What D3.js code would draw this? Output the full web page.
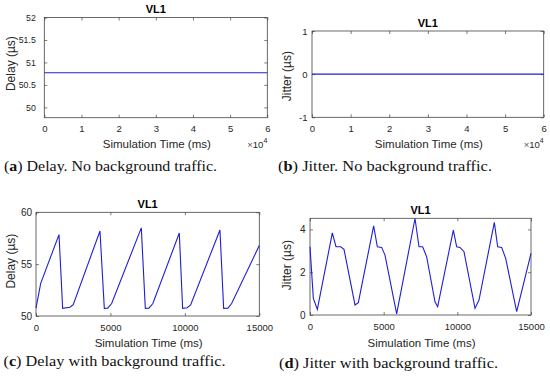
<!DOCTYPE html>
<html lang="en">
<head>
<meta charset="utf-8">
<script src="https://d3js.org/d3.v7.min.js"></script>
<style>
  body { margin: 0; background: #fff; }
  svg { display: block; }
  .tick text, .lbl { font-family: "Liberation Sans", Arial, sans-serif; fill: #262626; }
  .ttl { font-family: "Liberation Sans", Arial, sans-serif; font-weight: bold; fill: #000; }
  .cap { font-family: "Liberation Serif", "Times New Roman", serif; fill: #111; }
</style>
</head>
<body>
<svg id="chart" width="550" height="379"></svg>
<script>
// panel (a) / (b): constant series over 0..6e4 ms
const flatTime = [0, 60000];
const flatDelay = [50.77, 50.77];
const flatJitter = [0, 0];

// panel (c): delay with background traffic
const delayTime = [0, 316, 1545, 1791, 2283, 2500, 4298, 4589, 4813, 5082, 7074, 7343, 7589, 7850,
  9626, 9850, 10150, 10387, 12357, 12604, 12895, 13141, 15000];
const delayVal = [50.75, 53.15, 57.85, 50.74, 50.84, 51.1, 58.2, 50.74, 50.76, 51.2, 58.5, 50.74, 50.76, 51.2,
  58.0, 50.74, 50.8, 51.06, 58.3, 50.74, 50.76, 51.2, 56.8];

// panel (d): jitter with background traffic
const jitterTime = [0, 226, 498, 1516, 1765, 2081, 2308, 3054, 3281, 4321, 4570, 4864, 5090, 5882,
  7127, 7398, 7647, 7919, 8484, 8665, 9729, 9955, 10181, 10452, 11199, 11471, 12511, 12738, 13009, 13281, 14027, 15000];
const jitterVal = [3.19, 0.78, 0.26, 3.84, 3.19, 3.19, 3.07, 0.47, 0.58, 4.17, 3.19, 3.16, 2.80, 0.05,
  4.51, 3.19, 3.19, 2.72, 0.62, 0.39, 3.97, 3.19, 3.16, 2.96, 0.31, 0.70, 4.33, 3.19, 3.16, 2.65, 0.16, 2.88];

const xTicksA = [0, 10000, 20000, 30000, 40000, 50000, 60000];
const xTicksC = [0, 5000, 10000, 15000];
const yTicksA = [50, 50.5, 51, 51.5, 52];
const yTicksB = [-1, 0, 1];
const yTicksC = [50, 55, 60];
const yTicksD = [0, 2, 4];

const captions = [
  ["a", " Delay. No background traffic."],
  ["b", " Jitter. No background traffic."],
  ["c", " Delay with background traffic."],
  ["d", " Jitter with background traffic."]
];

const svg = d3.select('#chart');

function drawPanel(p) {
  const x = d3.scaleLinear().domain(p.xDomain).range([p.left, p.right]);
  const y = d3.scaleLinear().domain(p.yDomain).range([p.bottom, p.top]);
  const g = svg.append('g');

  const fmtX = p.sci ? (d => d / 10000) : d3.format('d');

  // inward ticks on all four sides, like a boxed matlab axes
  g.append('g').attr('class', 'xax').attr('transform', `translate(0,${p.bottom})`)
    .call(d3.axisBottom(x).tickValues(p.xTicks).tickSizeInner(-3).tickSizeOuter(0).tickPadding(8).tickFormat(fmtX))
    .call(a => a.select('.domain').remove());
  g.append('g').attr('transform', `translate(0,${p.top})`)
    .call(d3.axisTop(x).tickValues(p.xTicks).tickSizeInner(-3).tickSizeOuter(0).tickFormat(''))
    .call(a => a.select('.domain').remove());
  g.append('g').attr('class', 'yax').attr('transform', `translate(${p.left},0)`)
    .call(d3.axisLeft(y).tickValues(p.yTicks).tickSizeInner(-3).tickSizeOuter(0).tickPadding(p.yPad).tickFormat(d => d))
    .call(a => a.select('.domain').remove());
  g.append('g').attr('transform', `translate(${p.right},0)`)
    .call(d3.axisRight(y).tickValues(p.yTicks).tickSizeInner(-3).tickSizeOuter(0).tickFormat(''))
    .call(a => a.select('.domain').remove());

  g.selectAll('.tick line').attr('stroke', '#444').attr('stroke-width', 0.7);
  g.selectAll('.xax .tick text').attr('font-size', 9.5);
  g.selectAll('.yax .tick text').attr('font-size', p.yFont);

  g.append('rect')
    .attr('x', p.left).attr('y', p.top)
    .attr('width', p.right - p.left).attr('height', p.bottom - p.top)
    .attr('fill', 'none').attr('stroke', '#444').attr('stroke-width', 0.8);

  const pts = p.xs.map((t, i) => [t, p.ys[i]]);
  g.append('path')
    .datum(pts)
    .attr('fill', 'none')
    .attr('stroke', '#1f1fd6')
    .attr('stroke-width', 1.1)
    .attr('d', d3.line().x(d => x(d[0])).y(d => y(d[1])));

  g.append('text').attr('class', 'ttl')
    .attr('x', (p.left + p.right) / 2).attr('y', p.top - 4.2)
    .attr('text-anchor', 'middle').attr('font-size', 11)
    .text('VL1');

  g.append('text').attr('class', 'lbl')
    .attr('x', (p.left + p.right) / 2 + 1).attr('y', p.xLabelY)
    .attr('text-anchor', 'middle').attr('font-size', 11.5)
    .text('Simulation Time (ms)');

  g.append('text').attr('class', 'lbl')
    .attr('transform', `translate(${p.yLabelX},${(p.top + p.bottom) / 2 + p.yLabelShift}) rotate(-90)`)
    .attr('text-anchor', 'middle').attr('font-size', 12)
    .text(p.yLabel);

  if (p.sci) {
    const s = g.append('text').attr('class', 'lbl')
      .attr('x', p.right).attr('y', p.xLabelY + 0.5)
      .attr('text-anchor', 'end').attr('font-size', 9.5);
    s.append('tspan').attr('fill', '#555').text('\u00d7');
    s.append('tspan').text('10');
    s.append('tspan').attr('dy', -5).attr('font-size', 7).text('4');
  }

  const c = svg.append('text').attr('class', 'cap')
    .attr('x', p.capX).attr('y', p.capY).attr('font-size', 15)
    .attr('textLength', p.capW).attr('lengthAdjust', 'spacingAndGlyphs');
  c.append('tspan').text('(');
  c.append('tspan').attr('font-weight', 'bold').text(p.caption[0]);
  c.append('tspan').text(')' + p.caption[1]);
}

drawPanel({
  left: 44.3, right: 267.3, top: 17.5, bottom: 117.7,
  xDomain: [0, 60000], yDomain: [49.77, 52],
  xTicks: xTicksA, yTicks: yTicksA, sci: true, yPad: 8.5, yFont: 8.8,
  xs: flatTime, ys: flatDelay, yLabel: 'Delay (\u00b5s)', yLabelX: 14.5, yLabelShift: -4,
  xLabelY: 147.5, capX: 4, capY: 171, capW: 213, caption: captions[0]
});
drawPanel({
  left: 312, right: 543.7, top: 31, bottom: 117.3,
  xDomain: [0, 60000], yDomain: [-1, 1],
  xTicks: xTicksA, yTicks: yTicksB, sci: true, yPad: 4.5, yFont: 9.5,
  xs: flatTime, ys: flatJitter, yLabel: 'Jitter (\u00b5s)', yLabelX: 291, yLabelShift: 2,
  xLabelY: 147.5, capX: 278, capY: 171, capW: 214, caption: captions[1]
});
drawPanel({
  left: 36, right: 259.3, top: 212.3, bottom: 316,
  xDomain: [0, 15000], yDomain: [50, 60],
  xTicks: xTicksC, yTicks: yTicksC, sci: false, yPad: 4, yFont: 10,
  xs: delayTime, ys: delayVal, yLabel: 'Delay (\u00b5s)', yLabelX: 15, yLabelShift: -3,
  xLabelY: 347, capX: 3.5, capY: 366, capW: 222, caption: captions[2]
});
drawPanel({
  left: 310, right: 531, top: 218.3, bottom: 315,
  xDomain: [0, 15000], yDomain: [0, 4.52],
  xTicks: xTicksC, yTicks: yTicksD, sci: false, yPad: 4.5, yFont: 10,
  xs: jitterTime, ys: jitterVal, yLabel: 'Jitter (\u00b5s)', yLabelX: 291, yLabelShift: -1.5,
  xLabelY: 346.5, capX: 279, capY: 368, capW: 219, caption: captions[3]
});
</script>
</body>
</html>
